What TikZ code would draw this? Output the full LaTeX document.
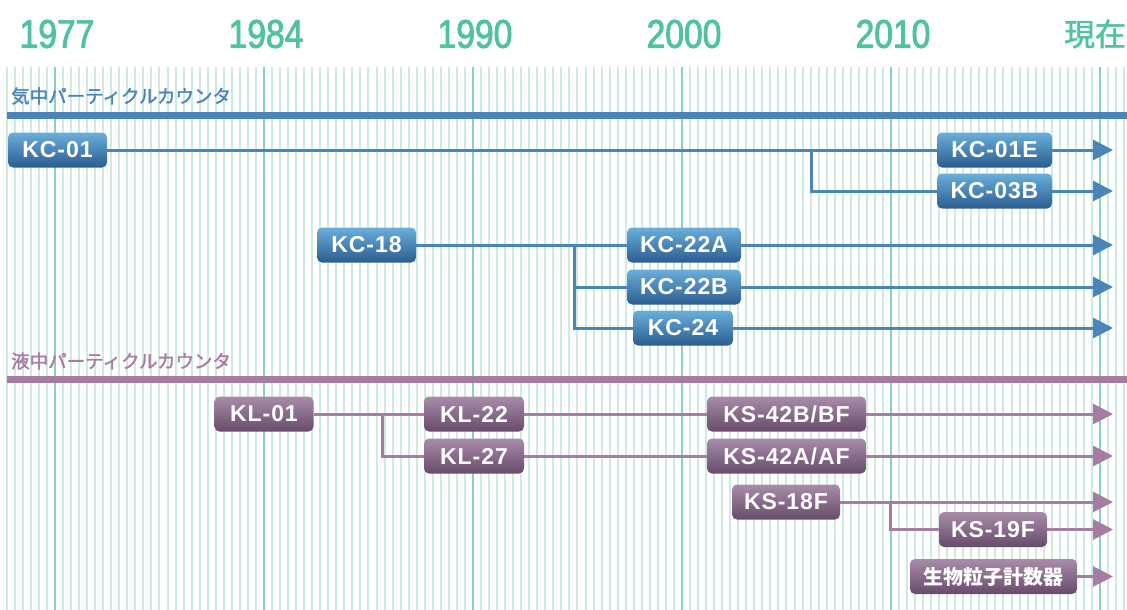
\documentclass[tikz,border=0pt]{standalone}
\usepackage{fontspec}
\setmainfont{Liberation Sans}
\newfontfamily\jpfont{Noto Sans CJK JP}
\newfontfamily\jpmed[FakeBold=1.6]{Noto Sans CJK JP}
\newfontfamily\boxfont[LetterSpace=4]{Liberation Sans}
\newfontfamily\yearfont[FakeStretch=0.84,FakeBold=2.2]{Liberation Sans}
\usetikzlibrary{arrows.meta}
\definecolor{gridlight}{HTML}{CFEAE1}
\definecolor{griddark}{HTML}{86D3BD}
\definecolor{yearcol}{HTML}{4EC2A2}
\definecolor{bltop}{HTML}{6AAFDB}
\definecolor{blbot}{HTML}{2B5C90}
\definecolor{blline}{HTML}{4A84B9}
\definecolor{ptop}{HTML}{A98BAA}
\definecolor{pbot}{HTML}{684A6B}
\definecolor{pline}{HTML}{A67CA3}
\pgfdeclarelayer{bg}
\pgfdeclarelayer{lines}
\pgfsetlayers{bg,lines,main}
\begin{document}
\begin{tikzpicture}[x=1pt,y=-1pt,
  every node/.style={inner sep=0pt},
  box/.style={rounded corners=5pt, text=white, minimum height=35pt,
    font=\boxfont\fontsize{23}{23}\selectfont\bfseries},
  bbox/.style={box, top color=bltop, bottom color=blbot},
  pbox/.style={box, top color=ptop, bottom color=pbot},
  bconn/.style={draw=blline, line width=3pt},
  pconn/.style={draw=pline, line width=3pt},
  arr/.style={-{Triangle[length=20pt,width=20pt]}},
  year/.style={text=yearcol, font=\yearfont\fontsize{40}{40}\selectfont},
  sect/.style={anchor=west, font=\jpmed\fontsize{18.5}{18.5}\selectfont},
]
\useasboundingbox (0,0) rectangle (1127,610);
\begin{pgfonlayer}{bg}
\foreach \k in {-6,...,133}
  \draw[gridlight, line width=2pt] ({55+\k*8.038},67) -- ({55+\k*8.038},610);
\foreach \x in {55,264,473,682,891,1100}
  \draw[griddark, line width=2pt] (\x,67) -- (\x,610);
\fill[blline] (7,112) rectangle (1127,119);
\fill[pline] (7,376) rectangle (1127,383);
\end{pgfonlayer}

% years
\node[year] (y1) at (57,34) {1977};
\node[year] (y2) at (266,34) {1984};
\node[year] (y3) at (475,34) {1990};
\node[year] (y4) at (684,34) {2000};
\node[year] (y5) at (893,34) {2010};
\node[text=yearcol, font=\jpmed\fontsize{31}{31}\selectfont] (y6) at (1095,34) {現在};

% section titles
\node[sect, text=blline] (t1) at (11,96) {気中パーティクルカウンタ};
\node[sect, text=pline] (t2) at (11,361) {液中パーティクルカウンタ};

% blue nodes
\node[bbox, minimum width=99pt] (kc01) at (57.5,150) {KC-01};
\node[bbox, minimum width=115pt] (kc01e) at (994.5,150) {KC-01E};
\node[bbox, minimum width=115pt] (kc03b) at (994.5,191) {KC-03B};
\node[bbox, minimum width=99pt] (kc18) at (366.5,245) {KC-18};
\node[bbox, minimum width=114pt] (kc22a) at (684,245) {KC-22A};
\node[bbox, minimum width=114pt] (kc22b) at (684,287) {KC-22B};
\node[bbox, minimum width=100pt] (kc24) at (683,328) {KC-24};

% purple nodes
\node[pbox, minimum width=99pt] (kl01) at (264,414) {KL-01};
\node[pbox, minimum width=100pt] (kl22) at (474,414) {KL-22};
\node[pbox, minimum width=100pt] (kl27) at (474,456) {KL-27};
\node[pbox, minimum width=159pt] (ks42b) at (786.5,414) {KS-42B/BF};
\node[pbox, minimum width=159pt] (ks42a) at (786.5,456) {KS-42A/AF};
\node[pbox, minimum width=108pt] (ks18f) at (786,502) {KS-18F};
\node[pbox, minimum width=108pt] (ks19f) at (993,529.5) {KS-19F};
\node[pbox, minimum width=167pt, font=\jpfont\bfseries\fontsize{20}{20}\selectfont] (bio) at (993.5,576.5) {生物粒子計数器};

% coordinates
\coordinate (e1) at (1113,150);
\coordinate (e2) at (1113,191);
\coordinate (e3) at (1113,245);
\coordinate (e4) at (1113,287);
\coordinate (e5) at (1113,328);
\coordinate (e6) at (1113,414);
\coordinate (e7) at (1113,456);
\coordinate (e8) at (1113,502);
\coordinate (e9) at (1113,529.5);
\coordinate (e10) at (1113,576.5);
\coordinate (b1) at (811,150);
\coordinate (b2) at (574,245);
\coordinate (b3) at (382.5,414);
\coordinate (b4) at (890,502);

\begin{pgfonlayer}{lines}
\draw[bconn, arr] (kc01.east) -- (e1);
\draw[bconn] (b1) |- (kc03b.west);
\draw[bconn, arr] (kc03b.east) -- (e2);
\draw[bconn, arr] (kc18.east) -- (e3);
\draw[bconn] (b2) |- (kc22b.west);
\draw[bconn] (b2) |- (kc24.west);
\draw[bconn, arr] (kc22b.east) -- (e4);
\draw[bconn, arr] (kc24.east) -- (e5);
\draw[pconn, arr] (kl01.east) -- (e6);
\draw[pconn] (b3) |- (kl27.west);
\draw[pconn] (kl27.east) -- (ks42a.west);
\draw[pconn, arr] (ks42a.east) -- (e7);
\draw[pconn, arr] (ks18f.east) -- (e8);
\draw[pconn] (b4) |- (ks19f.west);
\draw[pconn, arr] (ks19f.east) -- (e9);
\draw[pconn, arr] (bio.east) -- (e10);
\end{pgfonlayer}
\end{tikzpicture}
\end{document}
